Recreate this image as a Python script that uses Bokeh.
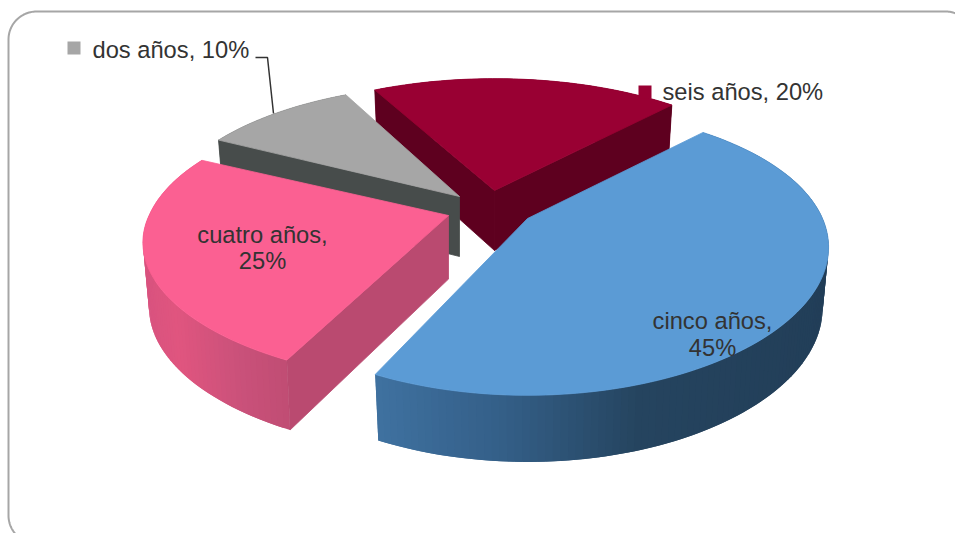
import numpy as np
from bokeh.embed import file_html
from bokeh.models import Range1d
from bokeh.plotting import figure
from bokeh.resources import INLINE
from bokeh.core.properties import value

# Survey shares per age group, clockwise from the first slice
categories = ["cinco años", "cuatro años", "dos años", "seis años"]
shares = [45, 25, 10, 20]

# Drawing style of each slice
top_colors = ["#5b9bd5", "#fb6092", "#a6a6a6", "#990033"]
radial_colors = ["#2f5a85", "#ba4a70", "#474c4b", "#5e001f"]
wall_stops = [
    [(375, "#3f71a0"), (500, "#345f88"), (640, "#25445f"), (830, "#223e58")],
    [(145, "#d9537f"), (175, "#e0557f"), (240, "#c9517a"), (295, "#bf4c72")],
    [(0, "#474c4b"), (955, "#474c4b")],
    [(0, "#640020"), (955, "#640020")],
]
# Where each exploded slice has its tip on the page, and its own size tweaks
tips = [(527, 218), (448, 215), (459, 196), (494, 190)]
width_scale = [1.0, 1.015, 1.0, 1.0]
front_scale = [1.0, 0.94, 1.0, 1.0]
depth_scale = [1.0, 1.06, 1.0, 1.0]
turn_deg = [0.0, -1.3, -2.0, -0.5]

# Perspective of the pie's ground plane
START_DEG = 47.0
RX, RY = 295.0, 137.0
PERSP_X, PERSP_Y = 0.2, 0.225
DEPTH, DEPTH_PERSP = 60.0, 0.1
FLOOR_SHRINK = 0.98
WIDTH, HEIGHT = 955, 533
TEXT_COLOR = "#333333"
FONT = value("Liberation Sans")
FONT_SIZE = "23.7px"


def rim(i, theta):
    """Project a point of the unit circle around a slice tip to the page."""
    s = np.sin(theta)
    x = tips[i][0] + width_scale[i] * RX * np.cos(theta) / (1 + PERSP_X * s)
    squash = np.where(s < 0, front_scale[i], 1.0)
    y = tips[i][1] - squash * RY * s / (1 + PERSP_Y * s)
    return x, y


def drop(i, theta):
    """Height of the outer wall at a rim angle."""
    return depth_scale[i] * DEPTH / (1 + DEPTH_PERSP * np.sin(theta))


def to_hex(rgb):
    return "#%02x%02x%02x" % tuple(int(round(c)) for c in rgb)


def wall_color(stops, x):
    xs = [s[0] for s in stops]
    cols = [[int(s[1][i:i + 2], 16) for i in (1, 3, 5)] for s in stops]
    return to_hex([np.interp(x, xs, [c[i] for c in cols]) for i in range(3)])


p = figure(width=WIDTH, height=HEIGHT, output_backend="svg", toolbar_location=None,
           x_range=Range1d(0, WIDTH), y_range=Range1d(HEIGHT, 0), min_border=0,
           outline_line_color=None, background_fill_color="white")
p.axis.visible = False
p.grid.visible = False

# Rounded frame that runs off the right and bottom of the page
corner = 28
a1 = np.radians(np.linspace(140, 180, 20))
a2 = np.radians(np.linspace(180, 270, 30))
a3 = np.radians(np.linspace(270, 290, 10))
frame_x = np.r_[36 + corner * np.cos(a1), 36 + corner * np.cos(a2), 945 + corner * np.cos(a3)]
frame_y = np.r_[515 + corner * np.sin(a1), 39 + corner * np.sin(a2), 39 + corner * np.sin(a3)]
p.line(frame_x, frame_y, line_color="#a6a6a6", line_width=2)

# Slice angles follow the shares
edges = np.radians(START_DEG - 3.6 * np.r_[0, np.cumsum(shares)])


def draw_slice(i):
    tip = tips[i]
    turn = np.radians(turn_deg[i])
    thetas = np.linspace(edges[i] + turn, edges[i + 1] + turn, max(8, int(shares[i] * 3)))
    x, y = rim(i, thetas)
    d = drop(i, thetas)
    bx = tip[0] + (x - tip[0]) * FLOOR_SHRINK
    by = y + d

    # Outer wall as overlapping shaded strips, so no seams show between them
    xs, ys, cs = [], [], []
    for j in range(len(thetas) - 1):
        k = min(j + 2, len(thetas) - 1)
        xs.append([x[j], x[k], bx[k], bx[j]])
        ys.append([y[j], y[k], by[k], by[j]])
        cs.append(wall_color(wall_stops[i], 0.5 * (x[j] + x[j + 1])))
    p.patches(xs, ys, fill_color=cs, line_color=None)

    # Radial walls that face the viewer
    mid = len(thetas) // 2
    tip_depth = depth_scale[i] * DEPTH
    for j in (0, -1):
        ex, ey = x[j] - tip[0], y[j] - tip[1]
        mx, my = x[mid] - tip[0], y[mid] - tip[1]
        if (ex * my - ey * mx) * ex < 0:
            p.patch([tip[0], x[j], bx[j], tip[0]],
                    [tip[1], y[j], by[j], tip[1] + tip_depth],
                    fill_color=radial_colors[i], line_color=radial_colors[i], line_width=0.8)

    # Top face
    p.patch(np.r_[tip[0], x], np.r_[tip[1], y],
            fill_color=top_colors[i], line_color=top_colors[i], line_width=0.8)


# Back slices first so the front ones overlap them
for i in (3, 2, 1, 0):
    draw_slice(i)

# Leader line of the grey slice's label
p.line([255, 267, 273], [57, 57, 113], line_color="#333333", line_width=1.5)

# Labels with a colour key
p.rect([73.5, 644.5], [47.5, 91.5], width=13, height=13,
       fill_color=[top_colors[2], top_colors[3]], line_color=None)
p.text([92, 662], [49.5, 91.5],
       text=[f"{categories[2]}, {shares[2]}%", f"{categories[3]}, {shares[3]}%"],
       text_font=FONT, text_font_size=FONT_SIZE, text_color=TEXT_COLOR,
       text_align="left", text_baseline="middle")

# Labels set in two lines on the slices
p.text([262, 262, 712, 712], [234.5, 260.5, 320.5, 347.5],
       text=[f"{categories[1]},", f"{shares[1]}%", f"{categories[0]},", f"{shares[0]}%"],
       text_font=FONT, text_font_size=FONT_SIZE, text_color=TEXT_COLOR,
       text_align="center", text_baseline="middle")

open("out.html", "w").write(file_html(p, INLINE))
